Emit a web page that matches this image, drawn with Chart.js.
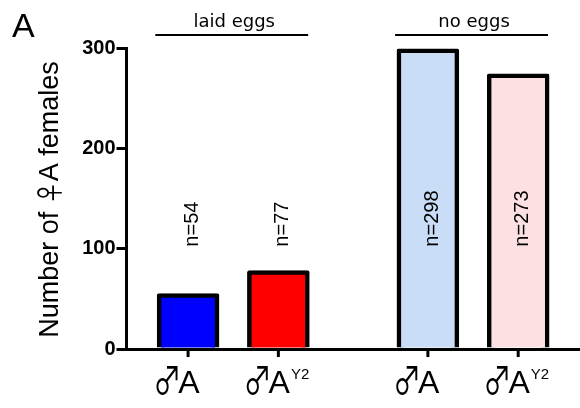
<!DOCTYPE html>
<html><head><meta charset="utf-8">
<script src="https://cdn.jsdelivr.net/npm/chart.js@4"></script>
<style>html,body{margin:0;padding:0;background:#fff}#wrap{width:580px;height:408px;position:relative}</style>
</head><body><div id="wrap"><canvas id="c"></canvas></div>
<script>
// ---- data ----
const groups = ["laid eggs", "no eggs"];
const seriesSymbol = ["♂", "♂"];
const seriesMain = ["A", "A"];
const seriesSup = ["", "Y2"];
const valuesA = [54, 298];
const valuesAY2 = [77, 273];
const yTicks = [0, 100, 200, 300];
const yTitleParts = ["Number of ", "♀", "A females"];
const panelLabel = "A";
const nPrefix = "n=";

// ---- styles ----
const colorsA = ["#0000ff", "#c9ddf6"];
const colorsAY2 = ["#ff0000", "#fde0e2"];
const SANS = '"Liberation Sans", Arial, sans-serif';
const SYM = '"Noto Sans CJK JP", "DejaVu Sans", sans-serif';
const DJV = '"DejaVu Sans", sans-serif';
const CAT_PCT = 0.753, BAR_PCT = 0.66;
const SYM_SX = 0.74;   // horizontal squeeze of the ♂ glyph

const series = [valuesA, valuesAY2];
const seriesColors = [colorsA, colorsAY2];

function runWidth(ctx, r) {
  ctx.font = r.font;
  return ctx.measureText(r.text).width * (r.sx || 1) + (r.gap || 0);
}
function drawRuns(ctx, runs, x, y) {
  let cx = x;
  runs.forEach(r => {
    ctx.font = r.font;
    ctx.save();
    ctx.translate(cx, y + (r.dy || 0));
    ctx.scale(r.sx || 1, 1);
    ctx.fillText(r.text, 0, 0);
    ctx.restore();
    cx += runWidth(ctx, r);
  });
}
function runsWidth(ctx, runs) {
  return runs.reduce((w, r) => w + runWidth(ctx, r), 0);
}

const annotate = {
  id: 'annotate',
  afterDraw(chart) {
    const ctx = chart.ctx;
    const area = chart.chartArea;
    const yScale = chart.scales.y;
    const metas = chart.data.datasets.map((d, i) => chart.getDatasetMeta(i));
    ctx.save();
    ctx.fillStyle = '#000';
    ctx.strokeStyle = '#000';
    ctx.textAlign = 'left';
    ctx.textBaseline = 'alphabetic';

    // x tick marks and labels
    ctx.font = '15px ' + SANS;
    const supW = Math.max(...seriesSup.map(s => ctx.measureText(s).width));
    metas.forEach((meta, di) => {
      meta.data.forEach(bar => {
        ctx.lineWidth = 3;
        ctx.beginPath();
        ctx.moveTo(bar.x, area.bottom);
        ctx.lineTo(bar.x, area.bottom + 8);
        ctx.stroke();
        const runs = [
          { text: seriesSymbol[di], font: '38px ' + SYM, sx: SYM_SX, dy: 1, gap: -3 },
          { text: seriesMain[di], font: '32px ' + SANS, gap: 1 },
          { text: seriesSup[di], font: '15px ' + SANS, dy: -13.5 }
        ];
        const total = runsWidth(ctx, runs.slice(0, 2)) + supW;
        drawRuns(ctx, runs, bar.x - total / 2 - 2, 392.5);
      });
    });

    // n= labels (rotated)
    ctx.font = '20px ' + SANS;
    metas.forEach((meta, di) => {
      meta.data.forEach((bar, gi) => {
        ctx.save();
        ctx.translate(bar.x + 10, yScale.getPixelForValue(102));
        ctx.rotate(-Math.PI / 2);
        ctx.fillText(nPrefix + series[di][gi], 0, 0);
        ctx.restore();
      });
    });

    // y title
    const tRuns = [
      { text: yTitleParts[0], font: '27px ' + SANS },
      { text: yTitleParts[1], font: '27px ' + SYM, sx: 0.85, dy: 2 },
      { text: yTitleParts[2], font: '27px ' + SANS }
    ];
    const tw = runsWidth(ctx, tRuns);
    ctx.save();
    ctx.translate(58, (area.top + area.bottom) / 2 + 1);
    ctx.rotate(-Math.PI / 2);
    drawRuns(ctx, tRuns, -tw / 2, 0);
    ctx.restore();

    // group labels with lines
    groups.forEach((g, gi) => {
      const bars = metas.map(m => m.data[gi]);
      const left = Math.min(...bars.map(b => b.x - b.width / 2)) - 3;
      const right = Math.max(...bars.map(b => b.x + b.width / 2));
      const cx = chart.scales.x.getPixelForValue(gi);
      ctx.lineWidth = 2;
      ctx.beginPath();
      ctx.moveTo(left, 35);
      ctx.lineTo(right, 35);
      ctx.stroke();
      ctx.font = '18px ' + DJV;
      ctx.textAlign = 'center';
      ctx.fillText(g, cx + 1, 26.5);
      ctx.textAlign = 'left';
    });

    // panel label
    ctx.font = '34px ' + SANS;
    ctx.fillText(panelLabel, 12, 36.5);
    ctx.restore();
  }
};

new Chart(document.getElementById('c'), {
  type: 'bar',
  data: {
    datasets: series.map((vals, di) => ({
      label: seriesSymbol[di] + seriesMain[di] + seriesSup[di],
      data: vals.map((v, i) => ({ x: i, y: v })),
      backgroundColor: seriesColors[di],
      borderColor: '#000',
      borderWidth: 4.5,
      borderRadius: 2,
      borderSkipped: 'start',
      inflateAmount: 1.5,
      categoryPercentage: CAT_PCT,
      barPercentage: BAR_PCT
    }))
  },
  options: {
    responsive: true,
    maintainAspectRatio: false,
    animation: false,
    layout: { padding: { top: 48, left: 0, right: 0, bottom: 0 } },
    plugins: { legend: { display: false }, tooltip: { enabled: false } },
    scales: {
      x: {
        type: 'linear',
        min: -0.445,
        max: 1.446,
        border: { display: true, color: '#000', width: 3, z: 1 },
        grid: { display: false },
        ticks: { display: false },
        afterBuildTicks: s => { s.ticks = []; },
        afterFit: s => { s.height = 59; }
      },
      y: {
        min: 0,
        max: 300,
        afterBuildTicks: s => { s.ticks = yTicks.map(v => ({ value: v })); },
        border: { display: true, color: '#000', width: 3 },
        grid: { drawOnChartArea: false, color: '#000', lineWidth: 3, tickLength: 10 },
        ticks: { color: '#000', padding: 1, font: { family: SANS, size: 20, weight: 'bold' } },
        afterFit: s => { s.width = 126.5; }
      }
    }
  },
  plugins: [annotate]
});
</script>
</body></html>
